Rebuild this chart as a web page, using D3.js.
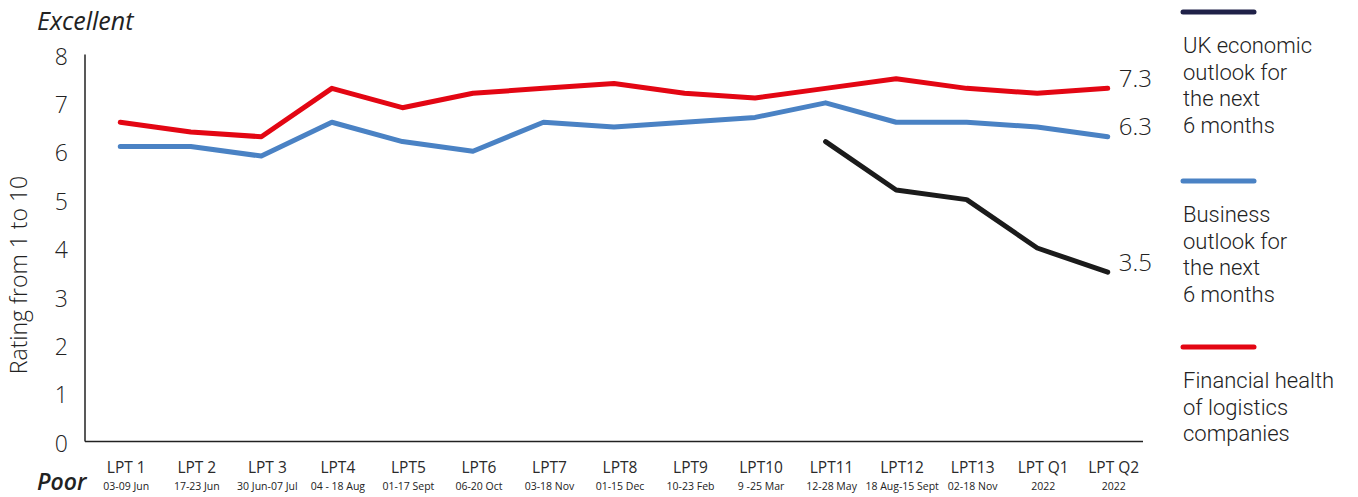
<!DOCTYPE html>
<html>
<head>
<meta charset="utf-8">
<script src="https://cdn.jsdelivr.net/npm/d3@7/dist/d3.min.js"></script>
<style>
  html, body { margin: 0; padding: 0; background: #fff; }
  svg { display: block; }
  text { font-family: "Open Sans", "Noto Sans", sans-serif; fill: #222; }
  text.legend-label { font-family: Roboto, "Open Sans", sans-serif; }
</style>
</head>
<body>
<svg id="chart" width="1358" height="497"></svg>
<script>
// Survey waves along the x axis
const waves = ["LPT 1", "LPT 2", "LPT 3", "LPT4", "LPT5", "LPT6", "LPT7", "LPT8",
               "LPT9", "LPT10", "LPT11", "LPT12", "LPT13", "LPT Q1", "LPT Q2"];
const waveDates = ["03-09 Jun", "17-23 Jun", "30 Jun-07 Jul", "04 - 18 Aug", "01-17 Sept",
                   "06-20 Oct", "03-18 Nov", "01-15 Dec", "10-23 Feb", "9 -25 Mar",
                   "12-28 May", "18 Aug-15 Sept", "02-18 Nov", "2022", "2022"];

// Ratings (1 to 10) per wave; null where the question was not asked
const ukOutlook = [null, null, null, null, null, null, null, null, null, null,
                   6.2, 5.2, 5.0, 4.0, 3.5];
const businessOutlook = [6.1, 6.1, 5.9, 6.6, 6.2, 6.0, 6.6, 6.5, 6.6, 6.7,
                         7.0, 6.6, 6.6, 6.5, 6.3];
const financialHealth = [6.6, 6.4, 6.3, 7.3, 6.9, 7.2, 7.3, 7.4, 7.2, 7.1,
                         7.3, 7.5, 7.3, 7.2, 7.3];

const yTicks = [0, 1, 2, 3, 4, 5, 6, 7, 8];

const seriesNames = ["UK economic\noutlook for\nthe next\n6 months",
                     "Business\noutlook for\nthe next\n6 months",
                     "Financial health\nof logistics\ncompanies"];

const series = [
  { values: ukOutlook, color: "#1b1b1b", legendColor: "#1f2148", name: seriesNames[0] },
  { values: businessOutlook, color: "#4a82c4", legendColor: "#4a82c4", name: seriesNames[1] },
  { values: financialHealth, color: "#e30613", legendColor: "#e30613", name: seriesNames[2] }
];

const svg = d3.select("#chart");
const plot = { left: 85, right: 1143, top: 54.5, bottom: 441.5 };

const x = d3.scaleBand().domain(waves).range([plot.left, plot.right]);
const y = d3.scaleLinear().domain([0, 8]).range([plot.bottom, plot.top]);
const cx = d => x(d) + x.bandwidth() / 2;

// Axes frame
svg.append("line")
  .attr("x1", plot.left).attr("x2", plot.left)
  .attr("y1", plot.top).attr("y2", plot.bottom)
  .attr("stroke", "#222").attr("stroke-width", 1.5);
svg.append("line")
  .attr("x1", plot.left).attr("x2", plot.right)
  .attr("y1", plot.bottom).attr("y2", plot.bottom)
  .attr("stroke", "#222").attr("stroke-width", 1.5);

// Y tick labels
svg.append("g").selectAll("text").data(yTicks).join("text")
  .attr("x", 68)
  .attr("y", d => y(d) + 4)
  .attr("text-anchor", "end")
  .attr("dominant-baseline", "middle")
  .style("font-size", "23px")
  .style("font-weight", 300)
  .text(d => d);

// Y axis title
svg.append("text")
  .attr("transform", "translate(21,275) rotate(-90)")
  .attr("text-anchor", "middle")
  .attr("dominant-baseline", "middle")
  .style("font-size", "23px")
  .style("font-weight", 300)
  .text("Rating from 1 to 10");

// Scale end captions
svg.append("text")
  .attr("x", 37).attr("y", 30)
  .style("font-size", "25px").style("font-style", "italic")
  .text("Excellent");
svg.append("text")
  .attr("x", 37).attr("y", 490)
  .style("font-size", "23px").style("font-style", "italic").style("font-weight", 600)
  .text("Poor");

// X labels: wave name and field dates
const xl = svg.append("g");
xl.selectAll("text.wave").data(waves).join("text")
  .attr("class", "wave")
  .attr("x", d => cx(d) + 6)
  .attr("y", 473)
  .attr("text-anchor", "middle")
  .style("font-size", "15.5px")
  .style("fill", "#2a2a2a")
  .text(d => d);
xl.selectAll("text.date").data(waves).join("text")
  .attr("class", "date")
  .attr("x", d => cx(d) + 6)
  .attr("y", 490)
  .attr("text-anchor", "middle")
  .style("font-size", "10.5px")
  .text((d, i) => waveDates[i]);

// Lines
const line = d3.line()
  .defined(d => d.v != null)
  .x(d => cx(d.w))
  .y(d => y(d.v));

series.forEach(s => {
  const pts = waves.map((w, i) => ({ w, v: s.values[i] }));
  svg.append("path")
    .datum(pts)
    .attr("fill", "none")
    .attr("stroke", s.color)
    .attr("stroke-width", 5)
    .attr("stroke-linecap", "round")
    .attr("stroke-linejoin", "round")
    .attr("d", line);

  // End value label
  const last = waves.length - 1;
  svg.append("text")
    .attr("x", cx(waves[last]) + 11)
    .attr("y", y(s.values[last]) - 8)
    .attr("dominant-baseline", "middle")
    .style("font-size", "24px")
    .style("font-weight", 300)
    .text(d3.format(".1f")(s.values[last]));
});

// Legend: swatch line above a wrapped multi-line label
const legendY = [12, 181, 347];
series.forEach((s, i) => {
  const g = svg.append("g").attr("transform", `translate(1183,${legendY[i]})`);
  g.append("line")
    .attr("x1", 0).attr("x2", 71)
    .attr("stroke", s.legendColor)
    .attr("stroke-width", 5)
    .attr("stroke-linecap", "round");
  g.append("text")
    .attr("class", "legend-label")
    .attr("y", 41)
    .style("font-size", "22px")
    .style("font-weight", 300)
    .selectAll("tspan")
    .data(s.name.split("\n"))
    .join("tspan")
    .attr("x", 0)
    .attr("dy", (d, j) => j === 0 ? 0 : 26.5)
    .text(d => d);
});
</script>
</body>
</html>
